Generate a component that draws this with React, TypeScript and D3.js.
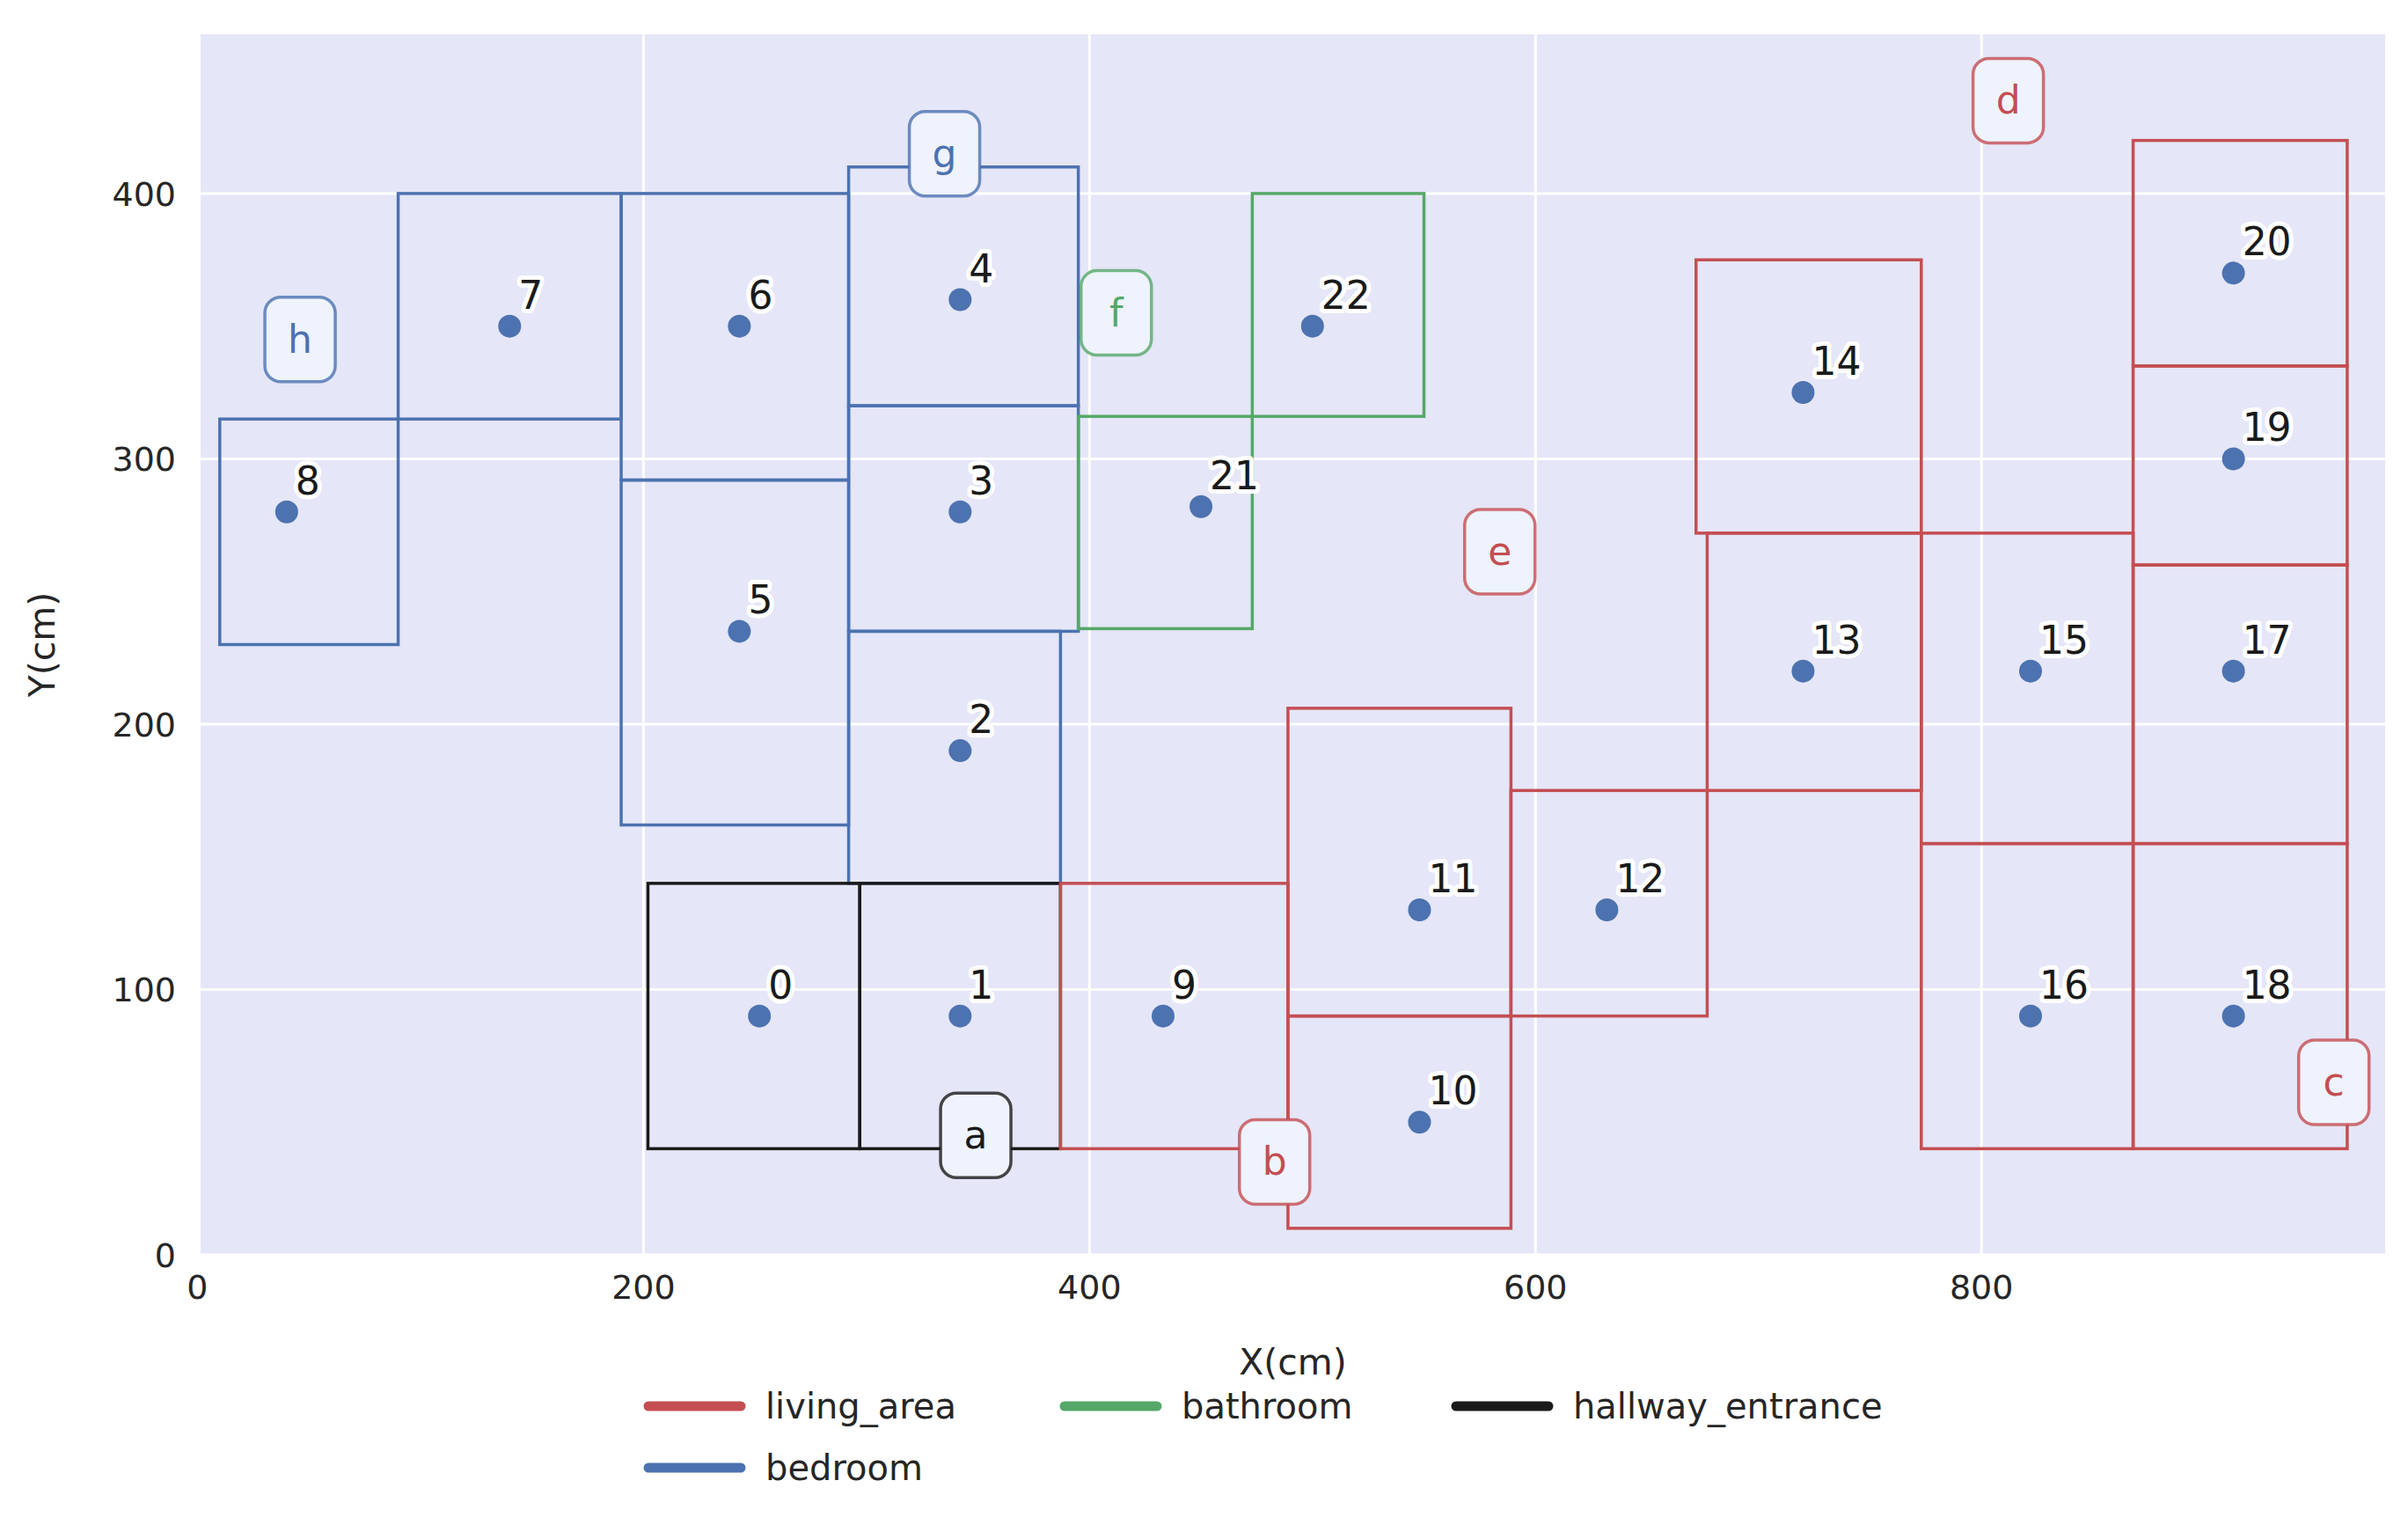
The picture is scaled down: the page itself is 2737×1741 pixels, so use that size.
import * as d3 from 'd3';

const rooms = [
  {id: 'h8', type: 'bedroom', x0: 10, x1: 90, y0: 230, y1: 315},
  {id: 'r7', type: 'bedroom', x0: 90, x1: 190, y0: 315, y1: 400},
  {id: 'r6', type: 'bedroom', x0: 190, x1: 292, y0: 292, y1: 400},
  {id: 'r5', type: 'bedroom', x0: 190, x1: 292, y0: 162, y1: 292},
  {id: 'r4', type: 'bedroom', x0: 292, x1: 395, y0: 320, y1: 410},
  {id: 'r3', type: 'bedroom', x0: 292, x1: 395, y0: 235, y1: 320},
  {id: 'r2', type: 'bedroom', x0: 292, x1: 387, y0: 140, y1: 235},
  {id: 'r22', type: 'bathroom', x0: 473, x1: 550, y0: 316, y1: 400},
  {id: 'r21', type: 'bathroom', x0: 395, x1: 473, y0: 236, y1: 316},
  {id: 'r0', type: 'hallway_entrance', x0: 202, x1: 297, y0: 40, y1: 140},
  {id: 'r1', type: 'hallway_entrance', x0: 297, x1: 387, y0: 40, y1: 140},
  {id: 'r9', type: 'living_area', x0: 387, x1: 489, y0: 40, y1: 140},
  {id: 'r10', type: 'living_area', x0: 489, x1: 589, y0: 10, y1: 90},
  {id: 'r11', type: 'living_area', x0: 489, x1: 589, y0: 90, y1: 206},
  {id: 'r12', type: 'living_area', x0: 589, x1: 677, y0: 90, y1: 175},
  {id: 'r13', type: 'living_area', x0: 677, x1: 773, y0: 175, y1: 272},
  {id: 'r14', type: 'living_area', x0: 672, x1: 773, y0: 272, y1: 375},
  {id: 'r15', type: 'living_area', x0: 773, x1: 868, y0: 155, y1: 272},
  {id: 'r16', type: 'living_area', x0: 773, x1: 868, y0: 40, y1: 155},
  {id: 'r17', type: 'living_area', x0: 868, x1: 964, y0: 155, y1: 260},
  {id: 'r18', type: 'living_area', x0: 868, x1: 964, y0: 40, y1: 155},
  {id: 'r19', type: 'living_area', x0: 868, x1: 964, y0: 260, y1: 335},
  {id: 'r20', type: 'living_area', x0: 868, x1: 964, y0: 335, y1: 420},
];

const points = [
  [0, 252, 90], [1, 342, 90], [2, 342, 190], [3, 342, 280], [4, 342, 360],
  [5, 243, 235], [6, 243, 350], [7, 140, 350], [8, 40, 280], [9, 433, 90],
  [10, 548, 50], [11, 548, 130], [12, 632, 130], [13, 720, 220], [14, 720, 325],
  [15, 822, 220], [16, 822, 90], [17, 913, 220], [18, 913, 90], [19, 913, 300],
  [20, 913, 370], [21, 450, 282], [22, 500, 350],
];

const zoneLabels = [
  {t: 'a', type: 'hallway_entrance', x: 349, y: 45},
  {t: 'b', type: 'living_area', x: 483, y: 35},
  {t: 'c', type: 'living_area', x: 958, y: 65},
  {t: 'd', type: 'living_area', x: 812, y: 435},
  {t: 'e', type: 'living_area', x: 584, y: 265},
  {t: 'f', type: 'bathroom', x: 412, y: 355},
  {t: 'g', type: 'bedroom', x: 335, y: 415},
  {t: 'h', type: 'bedroom', x: 46, y: 345},
];

const legendItems = ['living_area', 'bathroom', 'hallway_entrance', 'bedroom'];
const xTicks = [0, 200, 400, 600, 800];
const yTicks = [0, 100, 200, 300, 400];

const colors = {
  living_area: '#C44E52',
  bathroom: '#55A868',
  hallway_entrance: '#1a1a1a',
  bedroom: '#4C72B0',
};

const W = 2737, H = 1741;
const L = 228, R = 2711, T = 39, B = 1426;
const font = 'DejaVu Sans, sans-serif';

export default function App() {
  // x axis starts a hair right of zero, as in the reference
  const x = d3.scaleLinear().domain([1.4, 981]).range([L, R]);
  const y = d3.scaleLinear().domain([0, 460]).range([B, T]);
  const legendPos = [[737, 1598], [1210, 1598], [1655, 1598], [737, 1668]];
  return (
    <svg width={W} height={H} style={{display: 'block', margin: -8}} fontFamily={font}>
      <rect width={W} height={H} fill="white" />
      <rect x={L} y={T} width={R - L} height={B - T} fill="#E5E6F7" />
      {xTicks.map(t => (
        <g key={'x' + t}>
          <line x1={x(t)} x2={x(t)} y1={T} y2={B} stroke="white" strokeWidth={3} />
          <text x={x(t)} y={B + 50} fontSize={38} textAnchor="middle" fill="#262626">{t}</text>
        </g>
      ))}
      {yTicks.map(t => (
        <g key={'y' + t}>
          <line x1={L} x2={R} y1={y(t)} y2={y(t)} stroke="white" strokeWidth={3} />
          <text x={L - 28} y={y(t) + 14} fontSize={38} textAnchor="end" fill="#262626">{t}</text>
        </g>
      ))}
      {rooms.map(r => (
        <rect key={r.id} x={x(r.x0)} y={y(r.y1)} width={x(r.x1) - x(r.x0)} height={y(r.y0) - y(r.y1)}
          fill="none" stroke={colors[r.type]} strokeWidth={3.5} />
      ))}
      {points.map(([id, px, py]) => (
        <g key={'p' + id}>
          <circle cx={x(px)} cy={y(py)} r={13} fill="#4C72B0" />
          <text x={x(px) + 10} y={y(py) - 20} fontSize={44} fill="#1a1a1a" stroke="white"
            strokeWidth={10} strokeLinejoin="round" paintOrder="stroke">{id}</text>
        </g>
      ))}
      {zoneLabels.map(z => (
        <g key={z.t}>
          <rect x={x(z.x) - 40} y={y(z.y) - 48} width={80} height={96} rx={18}
            fill="#EEF3FD" stroke={colors[z.type]} strokeOpacity={0.8} strokeWidth={3.5} />
          <text x={x(z.x)} y={y(z.y) + 15} fontSize={44} textAnchor="middle" fill={colors[z.type]}>{z.t}</text>
        </g>
      ))}
      <text x={(L + R) / 2} y={1562} fontSize={41} textAnchor="middle" fill="#262626">X(cm)</text>
      <text transform={`translate(62,${(T + B) / 2}) rotate(-90)`} fontSize={41} textAnchor="middle" fill="#262626">Y(cm)</text>
      {legendItems.map((k, i) => {
        const [lx, ly] = legendPos[i];
        return (
          <g key={k}>
            <line x1={lx} x2={lx + 105} y1={ly} y2={ly} stroke={colors[k]} strokeWidth={11} strokeLinecap="round" />
            <text x={lx + 133} y={ly + 14} fontSize={40} fill="#262626">{k}</text>
          </g>
        );
      })}
    </svg>
  );
}
